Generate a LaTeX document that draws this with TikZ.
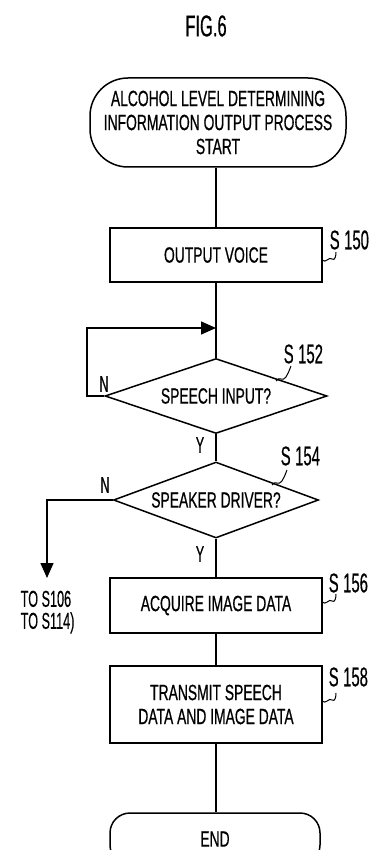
\documentclass[tikz,border=0pt]{standalone}
\usepackage{fontspec}
\setmainfont[FakeStretch=0.63,FakeBold=0.6]{Liberation Sans}
\newfontfamily\lblfont[FakeStretch=0.55,FakeBold=0.4]{Liberation Sans}
\usetikzlibrary{shapes.geometric,arrows.meta}
\begin{document}
\begin{tikzpicture}[x=1pt,y=-1pt,
  line width=1.5pt,
  txt/.style={font=\fontsize{22}{24}\selectfont,align=center},
  procbox/.style={draw,txt,minimum width=212pt,inner sep=0pt},
  term/.style={draw,txt,rounded corners=38pt,inner sep=0pt},
  steplbl/.style={font=\lblfont\fontsize{27}{27}\selectfont,inner sep=0pt},
  yn/.style={font=\lblfont\fontsize{23}{23}\selectfont,inner sep=0pt},
  arr/.style={-{Triangle[length=15pt,width=13pt]}}]
\useasboundingbox (0,0) rectangle (370,850);
\node[font=\lblfont\fontsize{30}{30}\selectfont,inner sep=0pt] (fig) at (206,26) {FIG.6};
\node[term,minimum width=256pt,minimum height=89pt] (start) at (218,122.5)
  {ALCOHOL LEVEL DETERMINING\\INFORMATION OUTPUT PROCESS\\START};
\node[procbox,minimum height=54pt] (s150) at (216,255) {OUTPUT VOICE};
\node[draw,diamond,inner sep=0pt,minimum width=222pt,minimum height=75pt] (d152) at (216,396) {};
\node[txt] at (d152) {SPEECH INPUT?};
\node[draw,diamond,inner sep=0pt,minimum width=205pt,minimum height=76pt] (d154) at (216,500) {};
\node[txt] at (d154) {SPEAKER DRIVER?};
\node[procbox,minimum height=55pt] (s156) at (216,605.5) {ACQUIRE IMAGE DATA};
\node[procbox,minimum height=77pt] (s158) at (216,704.5) {TRANSMIT SPEECH\\DATA AND IMAGE DATA};
\node[term,minimum width=210pt,minimum height=52pt,rounded corners=20pt] (endt) at (215,839) {END};
% step labels
\node[steplbl,anchor=west] (l150) at (329,240) {S\,150};
\node[steplbl,anchor=west] (l152) at (283,354) {S\,152};
\node[steplbl,anchor=west] (l154) at (280,456) {S\,154};
\node[steplbl,anchor=west] (l156) at (328,583) {S\,156};
\node[steplbl,anchor=west] (l158) at (328,677) {S\,158};
% squiggles
\draw[line width=1pt] (322,260) .. controls (326,264) and (329,256) .. (332,259) .. controls (335,261) and (336,256) .. (336,252);
\draw[line width=1pt] (276,381) .. controls (279,376) and (283,382) .. (286,377) .. controls (288,374) and (289,371) .. (291,366);
\draw[line width=1pt] (272,485) .. controls (275,480) and (279,486) .. (282,481) .. controls (284,478) and (285,475) .. (287,470);
\draw[line width=1pt] (322,602) .. controls (326,606) and (329,598) .. (332,601) .. controls (335,603) and (336,598) .. (336,594);
\draw[line width=1pt] (322,701) .. controls (326,705) and (329,697) .. (332,700) .. controls (335,702) and (336,697) .. (336,693);
% connectors
\coordinate (top152) at (216,328);
\coordinate (loopL) at (87,328);
\coordinate (brL) at (47,500);
\coordinate (brEnd) at (47,578);
\draw (start.south -| s150.north) -- (s150.north);
\draw (s150.south) -- (d152.north);
\draw[arr] (d152.west) -| (loopL) -- (top152);
\draw (d152.south) -- (d154.north);
\draw (d154.south) -- (s156.north);
\draw[arr] (d154.west) -- (brL) -- (brEnd);
\draw (s156.south) -- (s158.north);
\draw (s158.south) -- (endt.north -| s158.south);
% Y/N labels
\node[yn] (n1) at (104,384) {N};
\node[yn] (y1) at (200,445) {Y};
\node[yn] (n2) at (105,485) {N};
\node[yn] (y2) at (200,554) {Y};
\node[font=\lblfont\fontsize{23}{22}\selectfont,align=left,inner sep=0pt,anchor=north west] (to) at (20,590) {TO S106\\TO S114)};
\end{tikzpicture}
\end{document}
